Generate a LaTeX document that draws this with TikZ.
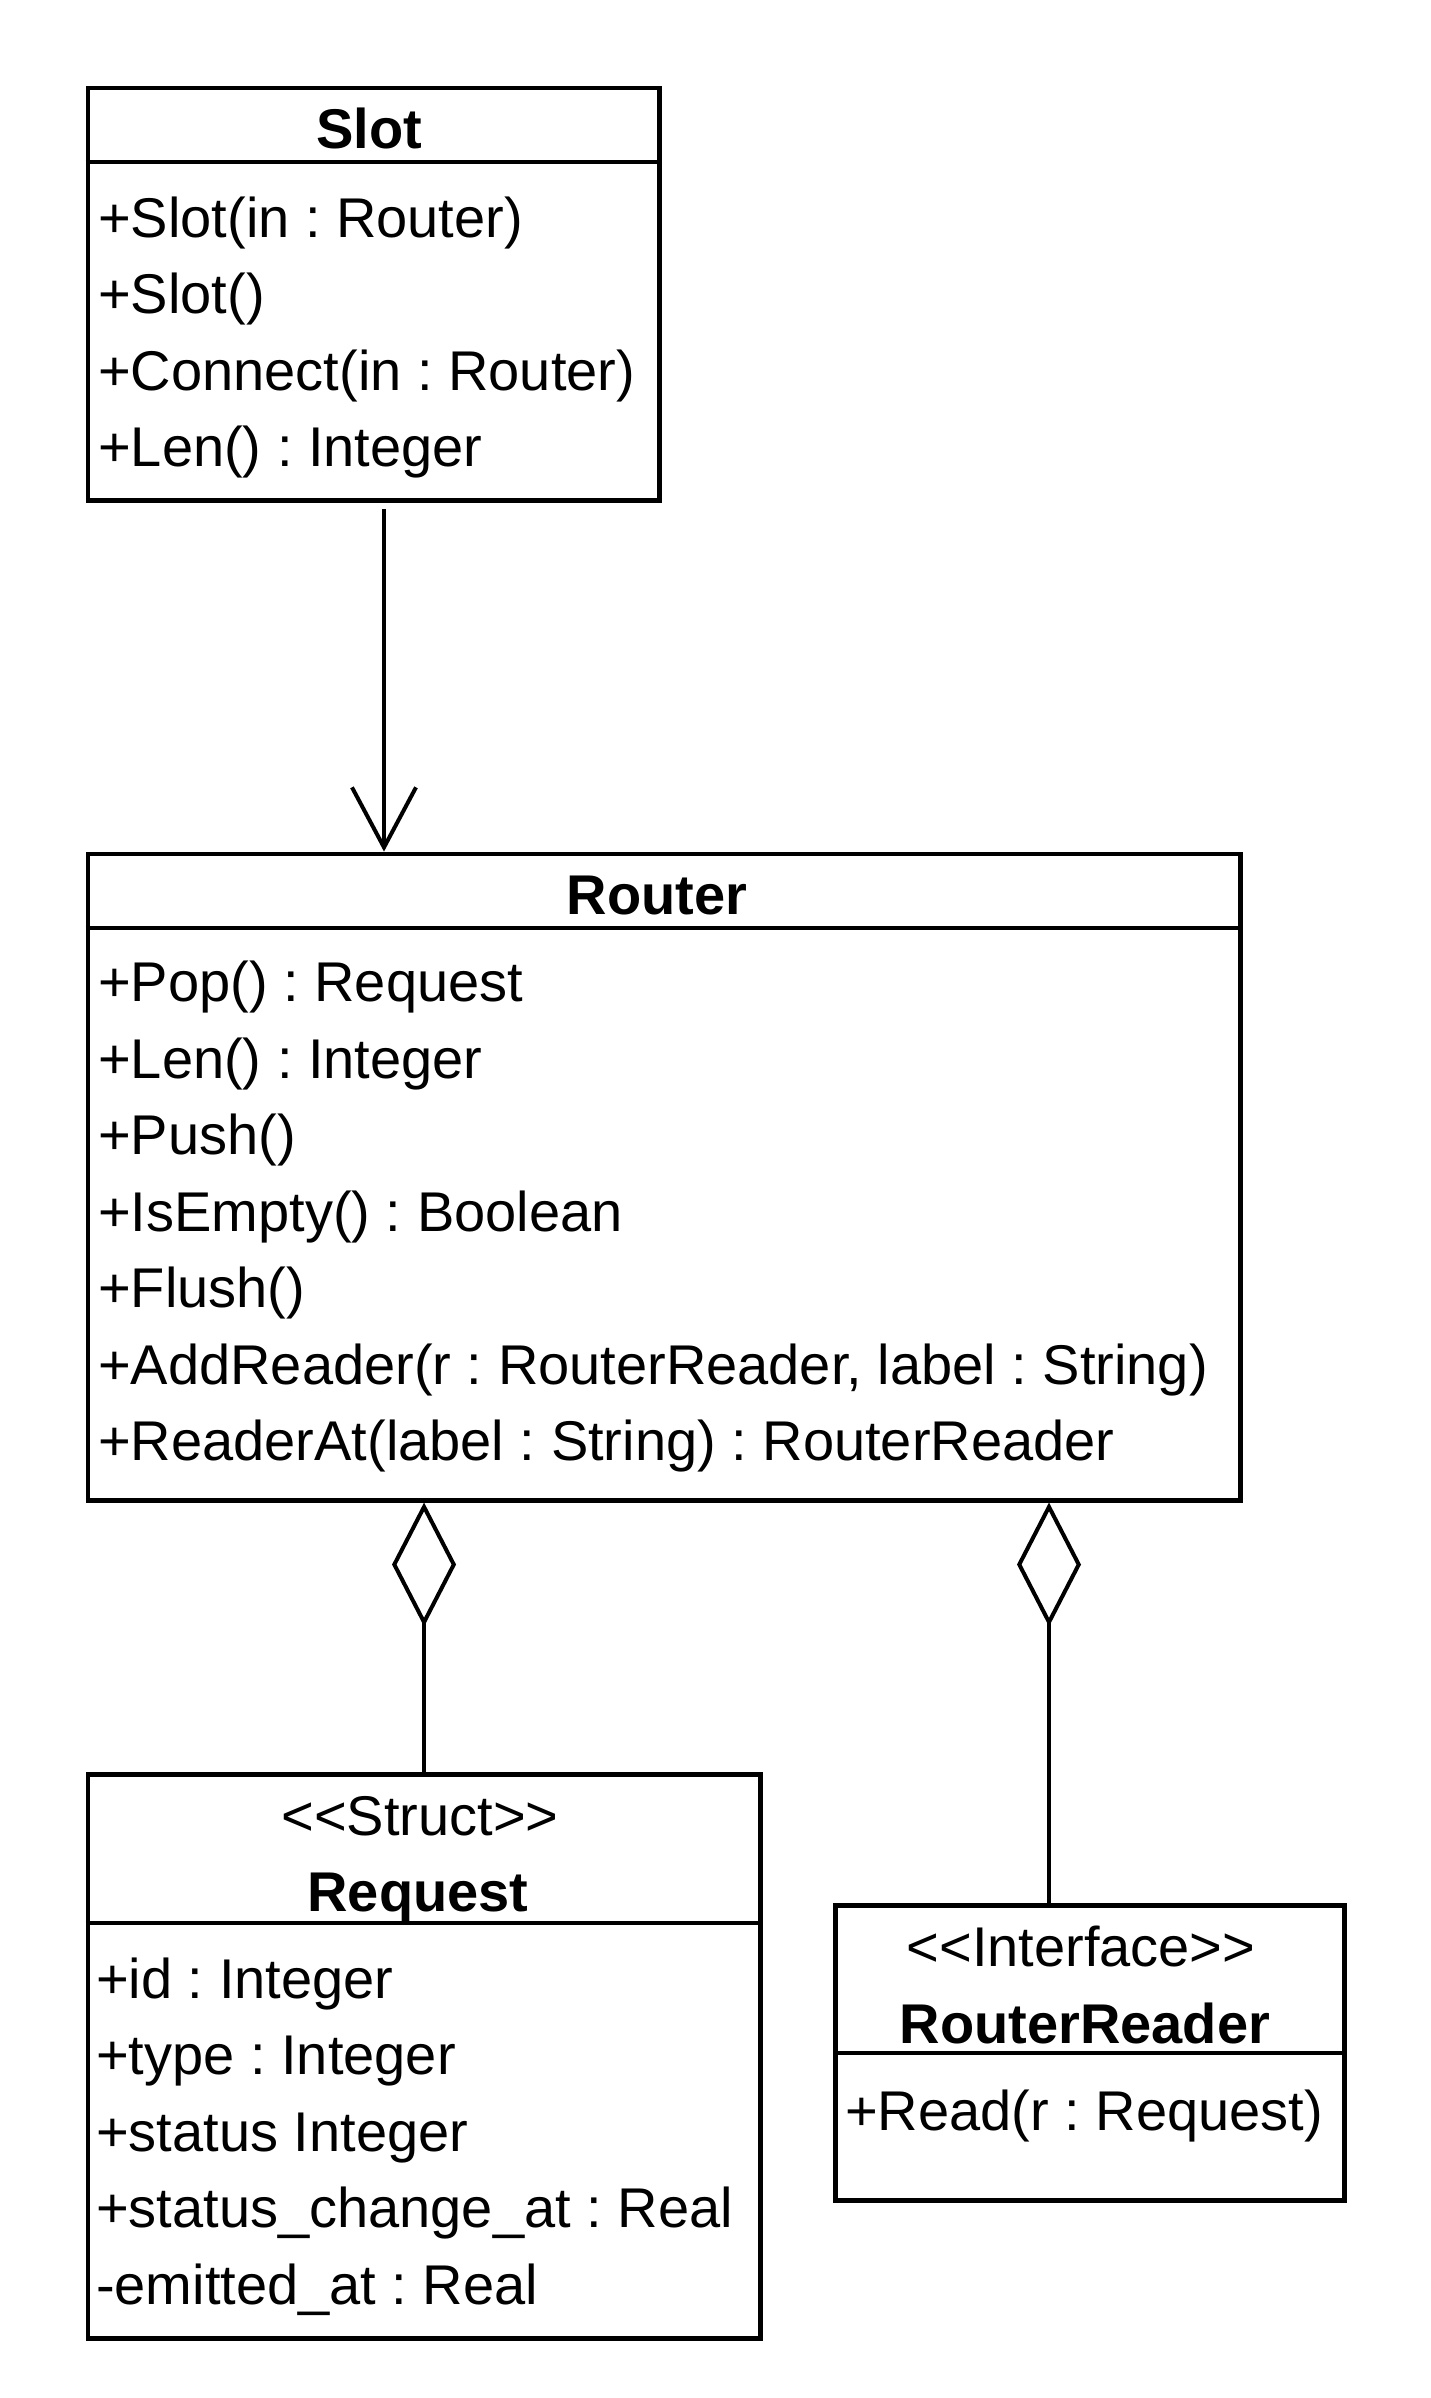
\documentclass[tikz,border=0pt]{standalone}
\usepackage{fontspec}
\setmainfont{Liberation Sans}
\usetikzlibrary{arrows.meta}
\frenchspacing
\tikzset{
  box/.style={draw, line width=4.5pt, inner sep=0pt, anchor=north west},
  divider/.style={line width=4.5pt},
  txt/.style={anchor=base west, inner sep=0pt, font=\fontsize{56}{66}\selectfont},
  ttl/.style={anchor=base, inner sep=0pt, font=\fontsize{56}{66}\selectfont\bfseries},
  stereo/.style={anchor=base, inner sep=0pt, font=\fontsize{56}{66}\selectfont},
  assoc/.style={line width=4pt, -{Straight Barb[length=60pt, width=64pt, line width=4pt]}},
  aggr/.style={line width=4pt, {Diamond[open, length=124pt, width=64pt, line width=4pt]}-},
}
\newcommand{\stopen}{\textless\kern0pt\textless}
\newcommand{\stclose}{\textgreater\kern0pt\textgreater}
\begin{document}
\begin{tikzpicture}[x=1pt, y=-1pt]
\useasboundingbox (0,0) rectangle (1431,2398);
% Slot
\node[box, minimum width=571.8pt, minimum height=412.8pt] (slot) at (85.6,85.6) {};
\draw[divider] (85.6,162) -- (657.4,162);
\node[ttl] (slotT) at (369,148) {Slot};
\node[txt] (s1) at (98,237) {+Slot(in : Router)};
\node[txt] (s2) at (98,313.5) {+Slot()};
\node[txt] (s3) at (98,390) {+Connect(in : Router)};
\node[txt] (s4) at (98,466.5) {+Len() : Integer};
% Router
\node[box, minimum width=1152.4pt, minimum height=646.4pt] (router) at (85.6,851.6) {};
\draw[divider] (85.6,928) -- (1238,928);
\node[ttl] (routerT) at (657,914) {Router};
\node[txt] (r1) at (98,1001.5) {+Pop() : Request};
\node[txt] (r2) at (98,1078) {+Len() : Integer};
\node[txt] (r3) at (98,1154.5) {+Push()};
\node[txt] (r4) at (98,1231) {+IsEmpty() : Boolean};
\node[txt] (r5) at (98,1307.5) {+Flush()};
\node[txt] (r6) at (98,1384) {+AddReader(r : RouterReader, label : String)};
\node[txt] (r7) at (98,1460.5) {+ReaderAt(label : String) : RouterReader};
% Request
\node[box, minimum width=672.4pt, minimum height=564pt] (request) at (85.6,1772) {};
\draw[divider] (85.6,1923) -- (758,1923);
\node[stereo] (reqS) at (420,1835) {\stopen Struct\stclose};
\node[ttl] (reqT) at (418,1911) {Request};
\node[txt] (q1) at (96,1998) {+id : Integer};
\node[txt] (q2) at (96,2074.5) {+type : Integer};
\node[txt] (q3) at (96,2151) {+status Integer};
\node[txt] (q4) at (96,2227.5) {+status\_change\_at : Real};
\node[txt] (q5) at (96,2304) {-emitted\_at : Real};
% RouterReader
\node[box, minimum width=509pt, minimum height=295pt] (reader) at (833,1903) {};
\draw[divider] (833,2053) -- (1342,2053);
\node[stereo] (rdS) at (1081,1966) {\stopen Interface\stclose};
\node[ttl] (rdT) at (1085,2043) {RouterReader};
\node[txt] (d1) at (845,2130) {+Read(r : Request)};
% connectors
\draw[assoc] ([xshift=298.4pt, yshift=-6pt]slot.south west) -- ([xshift=298.4pt]router.north west);
\draw[aggr] (router.south west -| request.north) -- (request.north);
\draw[aggr] ([xshift=963.4pt]router.south west) -- ([xshift=216pt]reader.north west);
\end{tikzpicture}
\end{document}
